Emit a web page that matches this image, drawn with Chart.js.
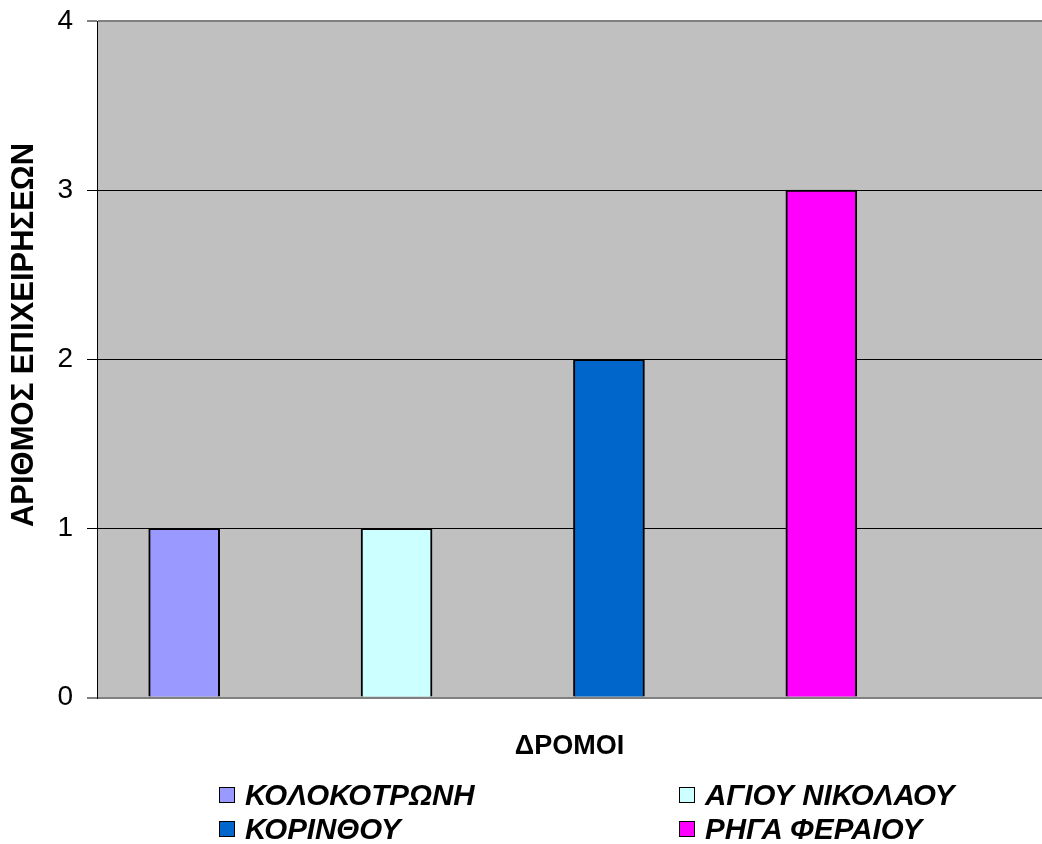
<!DOCTYPE html>
<html>
<head>
<meta charset="utf-8">
<script src="https://cdn.jsdelivr.net/npm/chart.js@4/dist/chart.umd.min.js"></script>
<style>
  html, body { margin: 0; padding: 0; background: #fff; }
  #wrap { position: relative; width: 1042px; height: 844px; }
  canvas { position: absolute; left: 0; top: 0; }
  .lg { position: absolute; display: flex; align-items: center; height: 34px;
        font-family: "Liberation Sans", Arial, sans-serif; font-weight: bold; font-style: italic;
        font-size: 29.5px; color: #000; white-space: nowrap; }
  .lg .box { width: 14px; height: 14px; border: 1px solid #000; margin-right: 10px; }
</style>
</head>
<body>
<div id="wrap">
  <canvas id="c" width="1042" height="844"></canvas>
</div>
<script>
const categories = ['ΚΟΛΟΚΟΤΡΩΝΗ', 'ΑΓΙΟΥ ΝΙΚΟΛΑΟΥ', 'ΚΟΡΙΝΘΟΥ', 'ΡΗΓΑ ΦΕΡΑΙΟΥ'];
const values = [1, 1, 2, 3];
const colors = ['#9999FF', '#CCFFFF', '#0066CC', '#FF00FF'];
const yTicks = [0, 1, 2, 3, 4];
const xTitle = 'ΔΡΟΜΟΙ';
const yTitle = 'ΑΡΙΘΜΟΣ ΕΠΙΧΕΙΡΗΣΕΩΝ';

const FONT = '"Liberation Sans", Arial, sans-serif';

const plotBg = {
  id: 'plotBg',
  beforeDraw(chart) {
    const a = chart.chartArea, ctx = chart.ctx;
    ctx.save();
    ctx.fillStyle = '#C0C0C0';
    ctx.fillRect(a.left, a.top, a.right - a.left, a.bottom - a.top);
    ctx.restore();
  }
};

// Y axis title, drawn rotated beside the axis
const yTitlePlugin = {
  id: 'yTitlePlugin',
  afterDraw(chart) {
    const ctx = chart.ctx;
    ctx.save();
    ctx.translate(24, 335);
    ctx.rotate(-Math.PI / 2);
    ctx.font = 'bold 31px ' + FONT;
    ctx.fillStyle = '#000';
    ctx.textAlign = 'center';
    ctx.textBaseline = 'middle';
    ctx.fillText(yTitle, 0, 0);
    ctx.restore();
  }
};

const datasets = categories.map((name, i) => ({
  label: name,
  data: [{ x: i, y: values[i] }],
  backgroundColor: colors[i],
  borderColor: '#000',
  borderWidth: 2,
  grouped: false,
  barThickness: 71
}));

new Chart(document.getElementById('c'), {
  type: 'bar',
  data: { datasets },
  plugins: [plotBg, yTitlePlugin],
  options: {
    responsive: false,
    animation: false,
    layout: { padding: { top: 21, right: 0, bottom: 81, left: 0 } },
    plugins: { legend: { display: false }, tooltip: { enabled: false } },
    scales: {
      x: {
        type: 'linear',
        offset: false,
        min: -0.4105,
        max: 4.039,
        grid: { display: false },
        border: { display: false },
        ticks: { display: false },
        title: { display: true, text: xTitle, color: '#000',
                 font: { family: FONT, size: 27, weight: 'bold' }, padding: { top: 25, bottom: 0 } }
      },
      y: {
        min: 0,
        max: 4,
        afterBuildTicks(scale) { scale.ticks = yTicks.map(v => ({ value: v })); },
        afterFit(scale) { scale.width = 97; scale.paddingTop = 0; scale.paddingBottom = 0; },
        ticks: { color: '#000', font: { family: FONT, size: 28 }, padding: 14 },
        grid: {
          color: c => (c.tick && (c.tick.value === 4 || c.tick.value === 0)) ? '#808080' : '#000',
          lineWidth: c => (c.tick && (c.tick.value === 4 || c.tick.value === 0)) ? 2 : 1,
          tickColor: '#000',
          tickLength: 10,
          tickWidth: 1
        },
        border: { display: true, color: '#000', width: 1 },
        title: { display: false }
      }
    }
  }
});

const wrap = document.getElementById('wrap');
categories.forEach((name, i) => {
  const col = i % 2, row = Math.floor(i / 2);
  const d = document.createElement('div');
  d.className = 'lg';
  d.style.left = (219 + col * 460) + 'px';
  d.style.top = (778 + row * 34) + 'px';
  const b = document.createElement('span');
  b.className = 'box';
  b.style.background = colors[i];
  const t = document.createElement('span');
  t.textContent = name;
  d.appendChild(b); d.appendChild(t);
  wrap.appendChild(d);
});
</script>
</body>
</html>
